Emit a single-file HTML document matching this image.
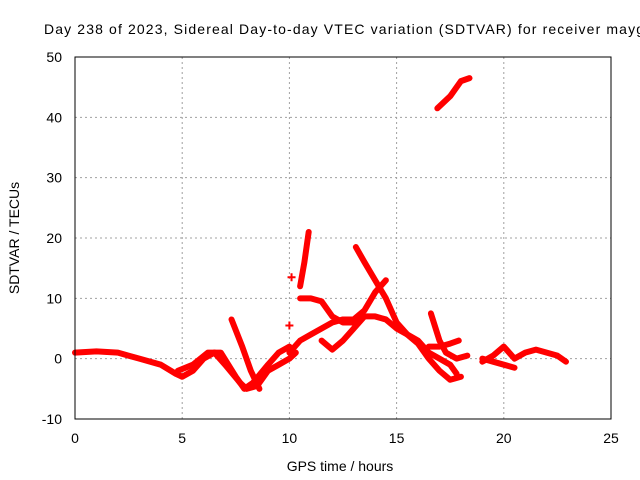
<!DOCTYPE html>
<html><head><meta charset="utf-8"><style>
body{margin:0;background:#fff;}
svg{display:block;font-family:"Liberation Sans",sans-serif;font-size:14px;}
</style></head><body>
<svg id="c" width="640" height="480">
<text x="44" y="34" textLength="600" lengthAdjust="spacing">Day 238 of 2023, Sidereal Day-to-day VTEC variation (SDTVAR) for receiver mayg</text>
<text transform="translate(19,238) rotate(-90)" text-anchor="middle">SDTVAR / TECUs</text>
<text x="340" y="471" text-anchor="middle">GPS time / hours</text>
<g id="grid"></g><g id="ticks"></g><g id="series"></g>
<rect x="75" y="57" width="536" height="362" fill="none" stroke="#000"/>
</svg>
<script>
const xTicks=[0,5,10,15,20,25];
const yTicks=[-10,0,10,20,30,40,50];
const s1=[[0,1],[1,1.2],[2,1],[3,0],[4,-1],[4.7,-2.5],[5,-3],[5.5,-2],[6,0],[6.5,1],[7,-1],[7.7,-4],[8,-5],[8.5,-4.5],[9,-2],[9.5,-1],[10,0],[10.3,1]];
const s2=[[4.8,-2],[5.5,-1],[6.2,1],[6.8,1],[7.5,-3],[7.9,-5],[8.3,-4],[9,-1],[9.5,1],[10,2]];
const s3=[[7.3,6.5],[7.8,2],[8.2,-2],[8.6,-5]];
const s4=[[10.5,10],[11,10],[11.5,9.5],[12,7],[12.5,6],[13,6],[13.5,7],[14,7],[14.5,6.5],[15,5],[15.5,4],[16,3],[16.5,1],[17,0],[17.5,-1],[17.8,-2.5]];
const s5=[[10.5,12],[10.7,16],[10.9,21]];
const s6=[[10,1],[10.5,3],[11,4],[11.5,5],[12,6],[12.5,6.5],[13,6.5],[13.5,8],[14,11],[14.5,13]];
const s7=[[11.5,3],[12,1.5],[12.5,3],[13,5],[13.5,7]];
const s8=[[13.1,18.5],[13.5,16],[14,13],[14.5,10],[15,6],[15.5,4],[16,2.5],[16.5,0],[17,-2],[17.5,-3.5],[18,-3]];
const s9=[[16.6,7.5],[17,3],[17.3,1],[17.8,0],[18.3,0.5]];
const s10=[[16.5,2],[17,2],[17.5,2.5],[17.9,3]];
const s11=[[16.9,41.5],[17.5,43.5],[18,46],[18.4,46.5]];
const s12=[[19,-0.5],[19.5,0.5],[20,2],[20.5,0],[21,1],[21.5,1.5],[22,1],[22.5,0.5],[22.9,-0.5]];
const s13=[[19,0],[19.5,-0.5],[20,-1],[20.5,-1.5]];
const s14=[[10,5.5],[10.1,13.5]];
const allSeries=[s1,s2,s3,s4,s5,s6,s7,s8,s9,s10,s11,s12,s13];
const NS="http://www.w3.org/2000/svg";
const X=h=>75+h*536/25, Y=v=>419-(v+10)*362/60;
const grid=document.getElementById('grid'),ticks=document.getElementById('ticks'),ser=document.getElementById('series');
function mk(tag,attrs,parent){const e=document.createElementNS(NS,tag);for(const k in attrs)e.setAttribute(k,attrs[k]);parent.appendChild(e);return e;}
xTicks.forEach(t=>{
 if(t>0&&t<25){const l=mk('line',{x1:X(t),x2:X(t),y1:57,y2:419,stroke:'#a0a0a0','stroke-dasharray':'2,3'},grid);
 
 }
 const tx=mk('text',{x:X(t),y:443,'text-anchor':'middle'},ticks);tx.textContent=t;
 
 
});
yTicks.forEach(t=>{
 if(t>-10&&t<50){const l=mk('line',{x1:75,x2:611,y1:Y(t),y2:Y(t),stroke:'#a0a0a0','stroke-dasharray':'2,3'},grid);
 
 }
 const tx=mk('text',{x:62,y:Y(t)+5,'text-anchor':'end'},ticks);tx.textContent=t;
 
 
});
allSeries.forEach((s,i)=>{
 const p=mk('polyline',{points:s.map(d=>X(d[0])+','+Y(d[1])).join(' '),fill:'none',stroke:'#ff0000','stroke-width':6,'stroke-linejoin':'round','stroke-linecap':'round'},ser);
 
 
});
s14.forEach(d=>{
 const p=mk('path',{d:`M${X(d[0])-4},${Y(d[1])}h8M${X(d[0])},${Y(d[1])-4}v8`,stroke:'#ff0000','stroke-width':2},ser);
 
 
});
</script>
</body></html>
